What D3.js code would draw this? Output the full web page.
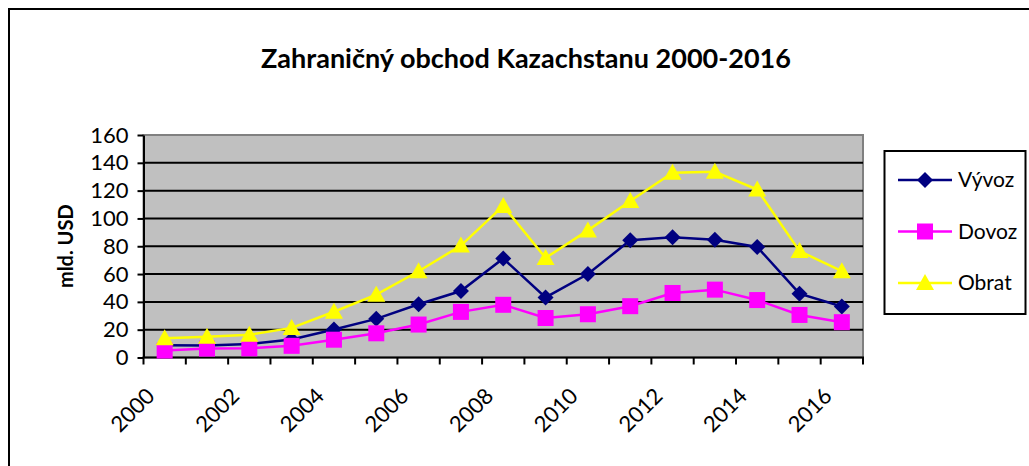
<!DOCTYPE html>
<html>
<head>
<meta charset="utf-8">
<script src="https://cdn.jsdelivr.net/npm/d3@7"></script>
<style>
  body { margin: 0; background: #fff; }
  text { font-family: Lato, "Open Sans", sans-serif; fill: #000; }
</style>
</head>
<body>
<div id="chart"></div>
<script>
const years = [2000, 2001, 2002, 2003, 2004, 2005, 2006, 2007, 2008, 2009, 2010, 2011, 2012, 2013, 2014, 2015, 2016];
const vyvoz = [8.8, 8.6, 9.7, 12.9, 20.1, 27.8, 38.3, 47.8, 71.2, 43.2, 60.0, 84.3, 86.4, 84.7, 79.5, 45.9, 36.7];
const dovoz = [5.0, 6.4, 6.6, 8.4, 12.8, 17.4, 23.7, 32.8, 37.9, 28.4, 31.1, 36.9, 46.4, 48.8, 41.3, 30.6, 25.4];
const obrat = [13.8, 15.0, 16.3, 21.3, 32.9, 45.2, 62.0, 80.5, 109.0, 71.6, 91.4, 112.5, 132.8, 133.5, 120.8, 76.5, 62.1];
const yTicks = [0, 20, 40, 60, 80, 100, 120, 140, 160];
const xLabels = [2000, 2002, 2004, 2006, 2008, 2010, 2012, 2014, 2016];

const SERIES = [
  { name: 'Vývoz', values: vyvoz, color: '#000080', marker: 'diamond' },
  { name: 'Dovoz', values: dovoz, color: '#ff00ff', marker: 'square' },
  { name: 'Obrat', values: obrat, color: '#ffff00', marker: 'triangle' }
];

const W = 1029, H = 466;
const PLOT = { left: 143.5, right: 863, top: 135, bottom: 357.5 };

const svg = d3.select('#chart').append('svg')
  .attr('width', W)
  .attr('height', H);

// outer chart frame (right and bottom edges fall outside the picture)
svg.append('rect')
  .attr('x', 9).attr('y', 9)
  .attr('width', W + 20).attr('height', H + 20)
  .attr('fill', '#fff')
  .attr('stroke', '#000')
  .attr('stroke-width', 2);

svg.append('text')
  .attr('x', 526).attr('y', 68)
  .attr('text-anchor', 'middle')
  .attr('font-size', 27)
  .attr('font-weight', 'bold')
  .text('Zahraničný obchod Kazachstanu 2000-2016');

const x = d3.scaleBand()
  .domain(years)
  .range([PLOT.left, PLOT.right]);
const y = d3.scaleLinear()
  .domain([0, 160])
  .range([PLOT.bottom, PLOT.top]);

// plot area
svg.append('rect')
  .attr('x', PLOT.left).attr('y', PLOT.top)
  .attr('width', PLOT.right - PLOT.left)
  .attr('height', PLOT.bottom - PLOT.top)
  .attr('fill', '#c0c0c0')
  .attr('stroke', '#808080')
  .attr('stroke-width', 2);

// gridlines
svg.append('g')
  .selectAll('line')
  .data(yTicks.filter(d => d > 0 && d < 160))
  .join('line')
    .attr('x1', PLOT.left).attr('x2', PLOT.right)
    .attr('y1', d => y(d)).attr('y2', d => y(d))
    .attr('stroke', '#000')
    .attr('stroke-width', 2);

// y axis
const yAxis = svg.append('g')
  .attr('transform', `translate(${PLOT.left},0)`)
  .call(d3.axisLeft(y).tickValues(yTicks).tickSize(6).tickPadding(9).tickSizeOuter(0));
yAxis.select('.domain').attr('stroke-width', 2);
yAxis.selectAll('.tick line').attr('stroke-width', 2);
yAxis.selectAll('.tick text')
  .attr('font-family', 'Lato, sans-serif')
  .attr('font-size', 22);

svg.append('text')
  .attr('transform', `translate(73,${(PLOT.top + PLOT.bottom) / 2}) rotate(-90)`)
  .attr('text-anchor', 'middle')
  .attr('font-size', 20)
  .attr('font-weight', 'bold')
  .text('mld. USD');

// x axis: ticks between categories
const xTicks = years.map(d => x(d)).concat([PLOT.right]);
const xAxis = svg.append('g');
xAxis.append('line')
  .attr('x1', PLOT.left - 1).attr('x2', PLOT.right + 1)
  .attr('y1', PLOT.bottom).attr('y2', PLOT.bottom)
  .attr('stroke', '#000')
  .attr('stroke-width', 2);
xAxis.selectAll('.xtick')
  .data(xTicks)
  .join('line')
    .attr('class', 'xtick')
    .attr('x1', d => d).attr('x2', d => d)
    .attr('y1', PLOT.bottom).attr('y2', PLOT.bottom + 7)
    .attr('stroke', '#000')
    .attr('stroke-width', 2);
xAxis.selectAll('text')
  .data(xLabels)
  .join('text')
    .attr('transform', d => `translate(${x(d) + x.bandwidth() / 2 - 14},392) rotate(-45)`)
    .attr('text-anchor', 'end')
    .attr('dy', '0.35em')
    .attr('font-size', 22)
    .text(d => d);

// series
const cx = d => x(d) + x.bandwidth() / 2;
const line = d3.line()
  .x((d, i) => cx(years[i]))
  .y(d => y(d));

function marker(g, type, color) {
  if (type === 'diamond') {
    g.append('path').attr('d', 'M0,-8L8,0L0,8L-8,0Z').attr('fill', color);
  } else if (type === 'square') {
    g.append('rect').attr('x', -8).attr('y', -8).attr('width', 16).attr('height', 16).attr('fill', color);
  } else {
    g.append('path').attr('d', 'M0,-9L9,7L-9,7Z').attr('fill', color);
  }
}

for (const s of SERIES) {
  const g = svg.append('g');
  g.append('path')
    .attr('d', line(s.values))
    .attr('fill', 'none')
    .attr('stroke', s.color)
    .attr('stroke-width', 2.5);
  g.selectAll('.pt')
    .data(s.values)
    .join('g')
      .attr('class', 'pt')
      .attr('transform', (d, i) => `translate(${cx(years[i])},${y(d)})`)
      .each(function() { marker(d3.select(this), s.marker, s.color); });
}

// legend
const legend = svg.append('g');
legend.append('rect')
  .attr('x', 884.5).attr('y', 151)
  .attr('width', 141).attr('height', 163)
  .attr('fill', '#fff')
  .attr('stroke', '#000')
  .attr('stroke-width', 2);
const item = legend.selectAll('.item')
  .data(SERIES)
  .join('g')
    .attr('class', 'item')
    .attr('transform', (d, i) => `translate(0,${180 + i * 51.5})`);
item.append('line')
  .attr('x1', 898).attr('x2', 952)
  .attr('stroke', d => d.color)
  .attr('stroke-width', 2.5);
item.append('g')
  .attr('transform', 'translate(925,0)')
  .each(function(d) { marker(d3.select(this), d.marker, d.color); });
item.append('text')
  .attr('x', 958)
  .attr('dy', '0.35em')
  .attr('font-size', 21)
  .text(d => d.name);
</script>
</body>
</html>
